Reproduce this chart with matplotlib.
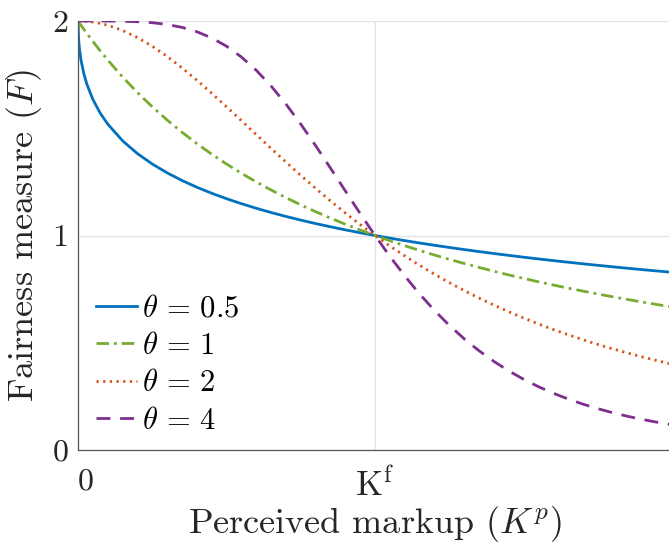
import numpy as np
import matplotlib
matplotlib.use("Agg")
import matplotlib.pyplot as plt

plt.rcParams["font.family"] = "serif"
plt.rcParams["font.serif"] = ["cmr10"]
plt.rcParams["mathtext.fontset"] = "cm"
plt.rcParams["axes.formatter.use_mathtext"] = True

# perceived markup, in units of K^f
kp = [0, 0.002, 0.005, 0.01, 0.02, 0.03, 0.05, 0.075, 0.1, 0.15, 0.2, 0.25, 0.3, 0.35,
      0.4, 0.45, 0.5, 0.55, 0.6, 0.65, 0.7, 0.75, 0.8, 0.85, 0.9, 0.95, 1.0, 1.05,
      1.1, 1.15, 1.2, 1.25, 1.3, 1.35, 1.4, 1.45, 1.5, 1.55, 1.6, 1.65, 1.7, 1.75,
      1.8, 1.85, 1.9, 1.95, 2.0]

# fairness measure
f_05 = [2.0, 1.9144, 1.8679, 1.8182, 1.7522, 1.7047, 1.6345, 1.5700, 1.5195, 1.4417,
        1.3820, 1.3333, 1.2922, 1.2566, 1.2251, 1.1970, 1.1716, 1.1484, 1.1270, 1.1073,
        1.0889, 1.0718, 1.0557, 1.0406, 1.0263, 1.0128, 1.0, 0.9878, 0.9762, 0.9651,
        0.9545, 0.9443, 0.9345, 0.9251, 0.9161, 0.9074, 0.8990, 0.8909, 0.8830, 0.8755,
        0.8681, 0.8610, 0.8541, 0.8474, 0.8409, 0.8346, 0.8284]
f_1 = [2.0, 1.9960, 1.9900, 1.9802, 1.9608, 1.9417, 1.9048, 1.8605, 1.8182, 1.7391,
       1.6667, 1.6000, 1.5385, 1.4815, 1.4286, 1.3793, 1.3333, 1.2903, 1.2500, 1.2121,
       1.1765, 1.1429, 1.1111, 1.0811, 1.0526, 1.0256, 1.0, 0.9756, 0.9524, 0.9302,
       0.9091, 0.8889, 0.8696, 0.8511, 0.8333, 0.8163, 0.8000, 0.7843, 0.7692, 0.7547,
       0.7407, 0.7273, 0.7143, 0.7018, 0.6897, 0.6780, 0.6667]
f_2 = [2.0, 2.0, 2.0, 1.9998, 1.9992, 1.9982, 1.9950, 1.9888, 1.9802, 1.9560,
       1.9231, 1.8824, 1.8349, 1.7817, 1.7241, 1.6632, 1.6000, 1.5355, 1.4706, 1.4060,
       1.3423, 1.2800, 1.2195, 1.1611, 1.1050, 1.0512, 1.0, 0.9512, 0.9050, 0.8611,
       0.8197, 0.7805, 0.7435, 0.7086, 0.6757, 0.6446, 0.6154, 0.5878, 0.5618, 0.5373,
       0.5141, 0.4923, 0.4717, 0.4522, 0.4338, 0.4165, 0.4000]
f_4 = [2.0, 2.0, 2.0, 2.0, 2.0, 2.0, 2.0, 2.0, 1.9998, 1.9990,
       1.9968, 1.9922, 1.9839, 1.9704, 1.9501, 1.9212, 1.8824, 1.8323, 1.7705, 1.6971,
       1.6128, 1.5193, 1.4188, 1.3141, 1.2077, 1.1022, 1.0, 0.9027, 0.8117, 0.7275,
       0.6507, 0.5812, 0.5186, 0.4628, 0.4131, 0.3690, 0.3299, 0.2953, 0.2648, 0.2378,
       0.2139, 0.1927, 0.1739, 0.1573, 0.1425, 0.1294, 0.1176]

labels = [r"$\theta\,=\,0.5$", r"$\theta\,=\,1$", r"$\theta\,=\,2$", r"$\theta\,=\,4$"]
xtick_labels = ["0", r"$\mathrm{K}^{\mathrm{f}}$"]
ytick_labels = ["0", "1", "2"]

fig = plt.figure(figsize=(6.69, 5.47), dpi=100)
ax = fig.add_axes([0.1166, 0.1773, 0.888, 0.7843])

ax.plot(kp, f_05, color="#0072BD", lw=2.0, ls="-", label=labels[0])
ax.plot(kp, f_1, color="#77AC30", lw=2.0, ls=(0, (4.5, 1.8, 1.0, 1.8)), label=labels[1])
ax.plot(kp, f_2, color="#D95319", lw=2.0, ls=(0, (0.8, 1.6)), label=labels[2])
ax.plot(kp, f_4, color="#7E2F8E", lw=2.0, ls=(0, (5.0, 3.5)), label=labels[3])

ax.set_xlim(0, 2)
ax.set_ylim(0, 2)
ax.set_xticks([0, 1])
ax.set_xticklabels(xtick_labels)
ax.set_yticks([0, 1, 2])
ax.set_yticklabels(ytick_labels)
ax.tick_params(length=0, labelsize=23, colors="#262626")
ax.tick_params(axis="x", pad=13)
ax.tick_params(axis="y", pad=7)
ax.get_xticklabels()[0].set_horizontalalignment("left")
ax.get_xticklabels()[1].set_fontsize(25)
ax.grid(True, color="#e3e3e3", lw=0.9)
ax.set_axisbelow(True)

for s in ["top", "right"]:
    ax.spines[s].set_visible(False)
for s in ["left", "bottom"]:
    ax.spines[s].set_color("#555555")
    ax.spines[s].set_linewidth(0.9)

ax.set_xlabel(r"Perceived markup ($K^p$)", fontsize=26, color="#262626", labelpad=1)
ax.set_ylabel(r"Fairness measure ($F$)", fontsize=26, color="#262626", labelpad=6)

ax.legend(loc="lower left", bbox_to_anchor=(0.03, 0.035), frameon=False, fontsize=22,
          borderaxespad=0, borderpad=0, handlelength=1.35, handletextpad=0.15,
          labelspacing=0.33)

fig.savefig("out.png", dpi=100)
